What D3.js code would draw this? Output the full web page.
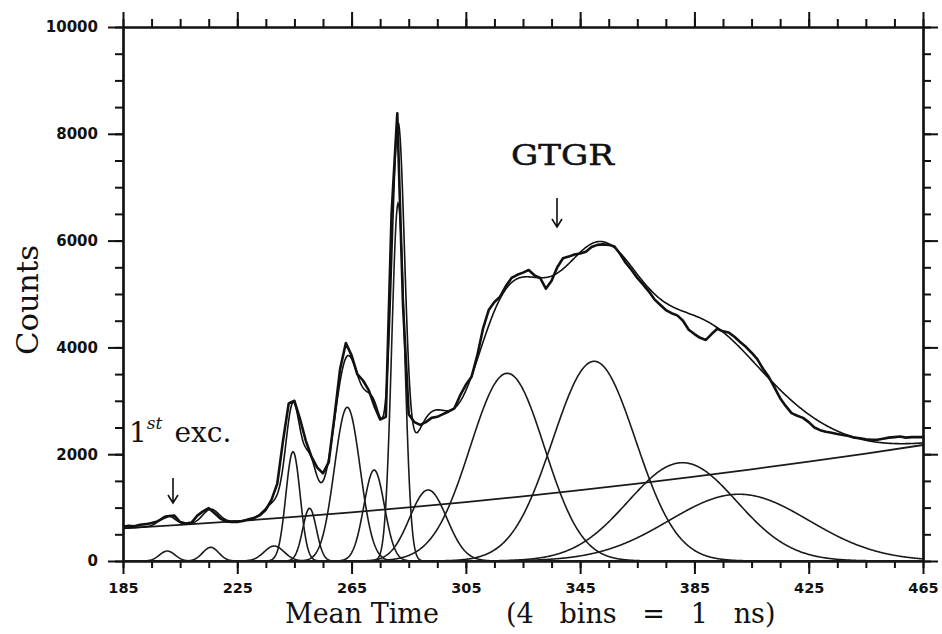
<!DOCTYPE html>
<html>
<head>
<meta charset="utf-8">
<script src="https://cdn.jsdelivr.net/npm/d3@7"></script>
<style>
  body { margin: 0; background: #fff; }
  text { fill: #111; }
  .tick text { font-family: "DejaVu Sans", Arial, sans-serif; font-weight: bold; font-size: 14.5px; fill: #111; }
  .serif { font-family: "DejaVu Serif", serif; }
</style>
</head>
<body>
<div id="chart"></div>
<script>
// measured histogram, one value every 2 bins starting at bin 185
var binStart = 185,
    binStep = 2;
var histCounts = [
  640, 660, 650, 680, 690, 710, 740, 800, 840, 850,
  730, 700, 720, 850, 930, 990, 900, 800, 740, 730,
  730, 750, 780, 810, 860, 960, 1150, 1450, 2250, 2950,
  3000, 2650, 2250, 1950, 1750, 1640, 1850, 2700, 3600, 4080,
  3850, 3500, 3380, 3200, 2900, 2650, 2700, 6500, 8384, 4800,
  2750, 2600, 2550, 2600, 2680, 2700, 2750, 2800, 2860, 3100,
  3300, 3450, 3850, 4350, 4700, 4850, 4950, 5150, 5300, 5360,
  5400, 5450, 5350, 5300, 5100, 5250, 5500, 5670, 5700, 5740,
  5760, 5790, 5880, 5920, 5930, 5920, 5890, 5750, 5580, 5450,
  5300, 5180, 5050, 4900, 4800, 4700, 4640, 4600, 4500, 4330,
  4250, 4180, 4140, 4250, 4350, 4300, 4280, 4200, 4100, 4010,
  3900, 3780, 3600, 3450, 3250, 3050, 2900, 2770, 2720, 2680,
  2600, 2500, 2450, 2420, 2400, 2380, 2360, 2340, 2310, 2300,
  2280, 2270, 2270, 2290, 2310, 2320, 2330, 2310, 2320, 2320,
  2320
];

// background curve under the peaks
var bgTimes  = [185, 205, 225, 245, 265, 285, 305, 325, 345, 365, 385, 405, 425, 445, 465];
var bgCounts = [612, 676, 747, 825, 911, 1004, 1104, 1212, 1327, 1449, 1579, 1716, 1861, 2012, 2172];

// fitted peak components: position, height, width (sigma, in bins)
var peakCenters = [200.5, 215.7, 237.9, 244.5, 250.3, 263.5, 272.9, 281.3, 291.8, 319.5, 349.9, 380.8, 400.6];
var peakHeights = [187, 256, 281, 2047, 987, 2878, 1704, 6700, 1330, 3515, 3740, 1841, 1250];
var peakWidths  = [2.7, 2.8, 3.5, 2.5, 2.4, 4.5, 3.6, 2.25, 6.5, 13, 14.5, 19, 24.5];

var xMajorTicks = [185, 225, 265, 305, 345, 385, 425, 465];
var yMajorTicks = [0, 2000, 4000, 6000, 8000, 10000];

var width = 942,
    height = 634;
var plot = { left: 123, right: 923, top: 27, bottom: 561 };

var svg = d3.select("#chart")
  .append("svg")
    .attr("width", width)
    .attr("height", height);

var x = d3.scaleLinear().domain([185, 465]).range([plot.left, plot.right]);
var y = d3.scaleLinear().domain([0, 10000]).range([plot.bottom, plot.top]);
var background = d3.scaleLinear().domain(bgTimes).range(bgCounts);

var xMinor = d3.range(185, 466, 10),
    yMinor = d3.range(0, 10001, 500);

drawAxes();
drawCurves();
drawLabels();

function drawAxes() {
  function styleAxis(g) {
    g.selectAll("path").attr("stroke", "#111").attr("stroke-width", 2.2);
    g.selectAll("line").attr("stroke", "#111").attr("stroke-width", 2);
  }

  // minor ticks
  svg.append("g")
    .attr("transform", "translate(0," + plot.bottom + ")")
    .call(d3.axisBottom(x).tickValues(xMinor).tickSize(7).tickSizeOuter(0).tickFormat(""))
    .call(styleAxis);
  svg.append("g")
    .attr("transform", "translate(0," + plot.top + ")")
    .call(d3.axisTop(x).tickValues(xMinor).tickSize(8).tickSizeOuter(0).tickFormat(""))
    .call(styleAxis);
  svg.append("g")
    .attr("transform", "translate(" + plot.left + ",0)")
    .call(d3.axisLeft(y).tickValues(yMinor).tickSize(8).tickSizeOuter(0).tickFormat(""))
    .call(styleAxis);
  svg.append("g")
    .attr("transform", "translate(" + plot.right + ",0)")
    .call(d3.axisRight(y).tickValues(yMinor).tickSize(8).tickSizeOuter(0).tickFormat(""))
    .call(styleAxis);

  // major ticks with labels
  svg.append("g")
    .attr("transform", "translate(0," + plot.bottom + ")")
    .call(d3.axisBottom(x).tickValues(xMajorTicks).tickSize(13).tickSizeOuter(0).tickPadding(9).tickFormat(d3.format("d")))
    .call(styleAxis);
  svg.append("g")
    .attr("transform", "translate(0," + plot.top + ")")
    .call(d3.axisTop(x).tickValues(xMajorTicks).tickSize(15).tickSizeOuter(0).tickFormat(""))
    .call(styleAxis);
  svg.append("g")
    .attr("transform", "translate(" + plot.left + ",0)")
    .call(d3.axisLeft(y).tickValues(yMajorTicks).tickSize(15).tickSizeOuter(0).tickPadding(10).tickFormat(d3.format("d")))
    .call(styleAxis)
    .selectAll(".tick text")
      .style("font-size", "15px");
  svg.append("g")
    .attr("transform", "translate(" + plot.right + ",0)")
    .call(d3.axisRight(y).tickValues(yMajorTicks).tickSize(15).tickSizeOuter(0).tickFormat(""))
    .call(styleAxis);
}

function drawCurves() {
  var fine = d3.range(185, 465.001, 0.25);

  function peak(i, t) {
    var d = (t - peakCenters[i]) / peakWidths[i];
    return peakHeights[i] * Math.exp(-0.5 * d * d);
  }

  var smoothLine = d3.line()
    .x(function(d) { return x(d[0]); })
    .y(function(d) { return y(d[1]); });

  var curves = svg.append("g");

  // individual components
  peakCenters.forEach(function(c, i) {
    curves.append("path")
      .datum(fine.map(function(t) { return [t, peak(i, t)]; }))
      .attr("d", smoothLine)
      .attr("fill", "none")
      .attr("stroke", "#1a1a1a")
      .attr("stroke-width", 1.6);
  });

  // background
  curves.append("path")
    .datum(bgTimes.map(function(t, i) { return [t, bgCounts[i]]; }))
    .attr("d", smoothLine.curve(d3.curveMonotoneX))
    .attr("fill", "none")
    .attr("stroke", "#1a1a1a")
    .attr("stroke-width", 1.8);
  smoothLine.curve(d3.curveLinear);

  // total fit = background + all components
  curves.append("path")
    .datum(fine.map(function(t) {
      return [t, background(t) + d3.sum(peakCenters, function(c, i) { return peak(i, t); })];
    }))
    .attr("d", smoothLine)
    .attr("fill", "none")
    .attr("stroke", "#111")
    .attr("stroke-width", 1.6);

  // measured histogram
  var histLine = d3.line()
    .x(function(d, i) { return x(binStart + i * binStep); })
    .y(function(d) { return y(d); });
  curves.append("path")
    .datum(histCounts)
    .attr("d", histLine)
    .attr("fill", "none")
    .attr("stroke", "#111")
    .attr("stroke-width", 2.6)
    .attr("stroke-linejoin", "round");
}

function drawLabels() {
  svg.append("text")
    .attr("class", "serif")
    .attr("transform", "translate(38," + ((plot.top + plot.bottom) / 2 + 6) + ") rotate(-90)")
    .attr("text-anchor", "middle")
    .attr("textLength", 110)
    .attr("lengthAdjust", "spacingAndGlyphs")
    .style("font-size", "29px")
    .text("Counts");

  svg.append("text")
    .attr("class", "serif")
    .attr("x", 285)
    .attr("y", 623)
    .style("font-size", "27px")
    .text("Mean Time");
  svg.append("text")
    .attr("class", "serif")
    .attr("x", 506)
    .attr("y", 623)
    .style("font-size", "27px")
    .style("white-space", "pre")
    .text("(4   bins   =   1   ns)");

  svg.append("text")
    .attr("class", "serif")
    .attr("x", 511)
    .attr("y", 165)
    .attr("textLength", 103)
    .attr("lengthAdjust", "spacingAndGlyphs")
    .style("font-size", "28px")
    .style("stroke", "#111")
    .style("stroke-width", 0.5)
    .text("GTGR");

  var first = svg.append("text")
    .attr("class", "serif")
    .attr("x", 129)
    .attr("y", 442)
    .style("font-size", "28px");
  first.append("tspan").text("1");
  first.append("tspan")
    .attr("dy", -13)
    .style("font-size", "17px")
    .style("font-style", "italic")
    .text("st");
  first.append("tspan")
    .attr("dy", 13)
    .attr("dx", 12)
    .text("exc.");

  drawArrow(557, 198, 227);
  drawArrow(173, 478, 503);

  function drawArrow(ax, y0, y1) {
    svg.append("path")
      .attr("d", "M" + ax + "," + y0 + "V" + y1 + "M" + (ax - 5) + "," + (y1 - 8) + "L" + ax + "," + y1 + "L" + (ax + 5) + "," + (y1 - 8))
      .attr("fill", "none")
      .attr("stroke", "#111")
      .attr("stroke-width", 1.6);
  }
}
</script>
</body>
</html>
